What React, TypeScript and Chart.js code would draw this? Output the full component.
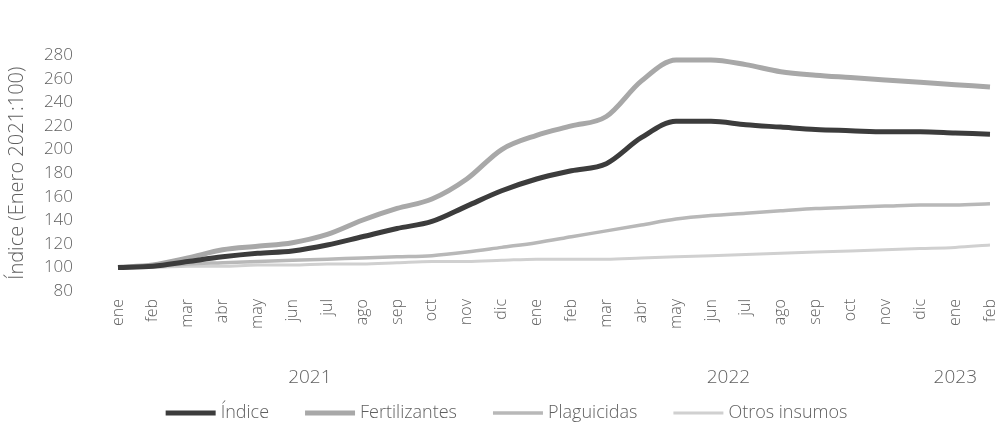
import React, { useEffect, useRef } from "react";
import { Chart, registerables } from "chart.js";

Chart.register(...registerables);

const months = ["ene","feb","mar","abr","may","jun","jul","ago","sep","oct","nov","dic","ene","feb","mar","abr","may","jun","jul","ago","sep","oct","nov","dic","ene","feb"];
const years = ["2021", "2022", "2023"];
const yearSpans = [12, 12, 2];

const indice = [100,101,105,109,112,114,119,126,133,139,152,165,175,182,188,210,224,224,221,219,217,216,215,215,214,213];
const fertilizantes = [100,102,108,115,118,121,128,140,150,158,175,200,212,220,228,258,276,276,272,266,263,261,259,257,255,253];
const plaguicidas = [100,101,103,104,105,106,107,108,109,110,113,117,121,126,131,136,141,144,146,148,150,151,152,153,153,154];
const otros = [100,100,101,101,102,102,103,103,104,105,105,106,107,107,107,108,109,110,111,112,113,114,115,116,117,119];

const seriesNames = ["Índice", "Fertilizantes", "Plaguicidas", "Otros insumos"];
const seriesColors = ["#3c3c3c", "#a8a8a8", "#b8b8b8", "#d0d0d0"];
const seriesWidths = [5, 5, 3.5, 3];

const FONT = '"Open Sans", "DejaVu Sans", sans-serif';
const TEXT = "#5f5f5f";

const extrasPlugin = {
  id: "extras",
  afterDraw(chart: any) {
    const ctx = chart.ctx;
    const xs = chart.scales.x;
    const area = chart.chartArea;
    ctx.save();
    // year labels
    ctx.font = `300 19px ${FONT}`;
    ctx.fillStyle = TEXT;
    ctx.textAlign = "center";
    ctx.textBaseline = "middle";
    let start = 0;
    years.forEach((y, i) => {
      const end = start + yearSpans[i] - 1;
      let cx = (xs.getPixelForValue(start) + xs.getPixelForValue(end)) / 2;
      const w = ctx.measureText(y).width;
      cx = Math.min(cx, chart.width - 20 - w / 2);
      ctx.fillText(y, cx, area.bottom + 87);
      start = end + 1;
    });
    // legend
    ctx.font = `300 18px ${FONT}`;
    ctx.textAlign = "left";
    const sample = 50, gapT = 5, gapI = 36;
    const ds = chart.data.datasets;
    const widths = ds.map((d: any) => sample + gapT + ctx.measureText(d.label).width);
    const total = widths.reduce((a: number, b: number) => a + b, 0) + gapI * (ds.length - 1);
    let x = chart.width / 2 + 8 - total / 2;
    const ly = 413;
    ds.forEach((d: any, i: number) => {
      ctx.strokeStyle = d.borderColor;
      ctx.lineWidth = d.borderWidth;
      ctx.beginPath();
      ctx.moveTo(x, ly);
      ctx.lineTo(x + sample, ly);
      ctx.stroke();
      ctx.fillStyle = TEXT;
      ctx.fillText(d.label, x + sample + gapT, ly);
      x += widths[i] + gapI;
    });
    ctx.restore();
  },
};

export default function App() {
  const ref = useRef<HTMLCanvasElement>(null);
  useEffect(() => {
    document.body.style.margin = "0";
    const seriesData = [indice, fertilizantes, plaguicidas, otros];
    const chart = new Chart(ref.current!, {
      type: "line",
      data: {
        labels: months,
        datasets: seriesData.map((d, i) => ({
          label: seriesNames[i],
          data: d,
          borderColor: seriesColors[i],
          backgroundColor: seriesColors[i],
          borderWidth: seriesWidths[i],
          pointRadius: 0,
          cubicInterpolationMode: "monotone" as const,
          order: i,
        })),
      },
      options: {
        animation: false,
        responsive: false,
        layout: { padding: { top: 45, right: 7, left: 0, bottom: 0 } },
        plugins: { legend: { display: false }, tooltip: { enabled: false } },
        scales: {
          x: {
            type: "category",
            offset: false,
            grid: { display: false, drawTicks: false },
            border: { display: false },
            ticks: {
              autoSkip: false,
              minRotation: 90,
              maxRotation: 90,
              padding: 8,
              color: TEXT,
              font: { family: FONT, size: 16, weight: "300" as any },
            },
            afterFit(scale: any) {
              scale.height = 143;
              scale.paddingRight = 0;
              scale.paddingLeft = 0;
            },
          },
          y: {
            min: 80,
            max: 280,
            grid: { display: false, drawTicks: false },
            border: { display: false },
            ticks: {
              stepSize: 20,
              padding: 45,
              color: TEXT,
              font: { family: FONT, size: 17, weight: "300" as any },
            },
            title: {
              display: true,
              text: "Índice (Enero 2021:100)",
              color: TEXT,
              padding: { top: 5, bottom: 0 },
              font: { family: FONT, size: 20, weight: "300" as any },
            },
            afterFit(scale: any) { scale.width = 118; },
          },
        },
      },
      plugins: [extrasPlugin],
    });
    return () => chart.destroy();
  }, []);
  return <canvas ref={ref} width={997} height={434} style={{ display: "block" }} />;
}
